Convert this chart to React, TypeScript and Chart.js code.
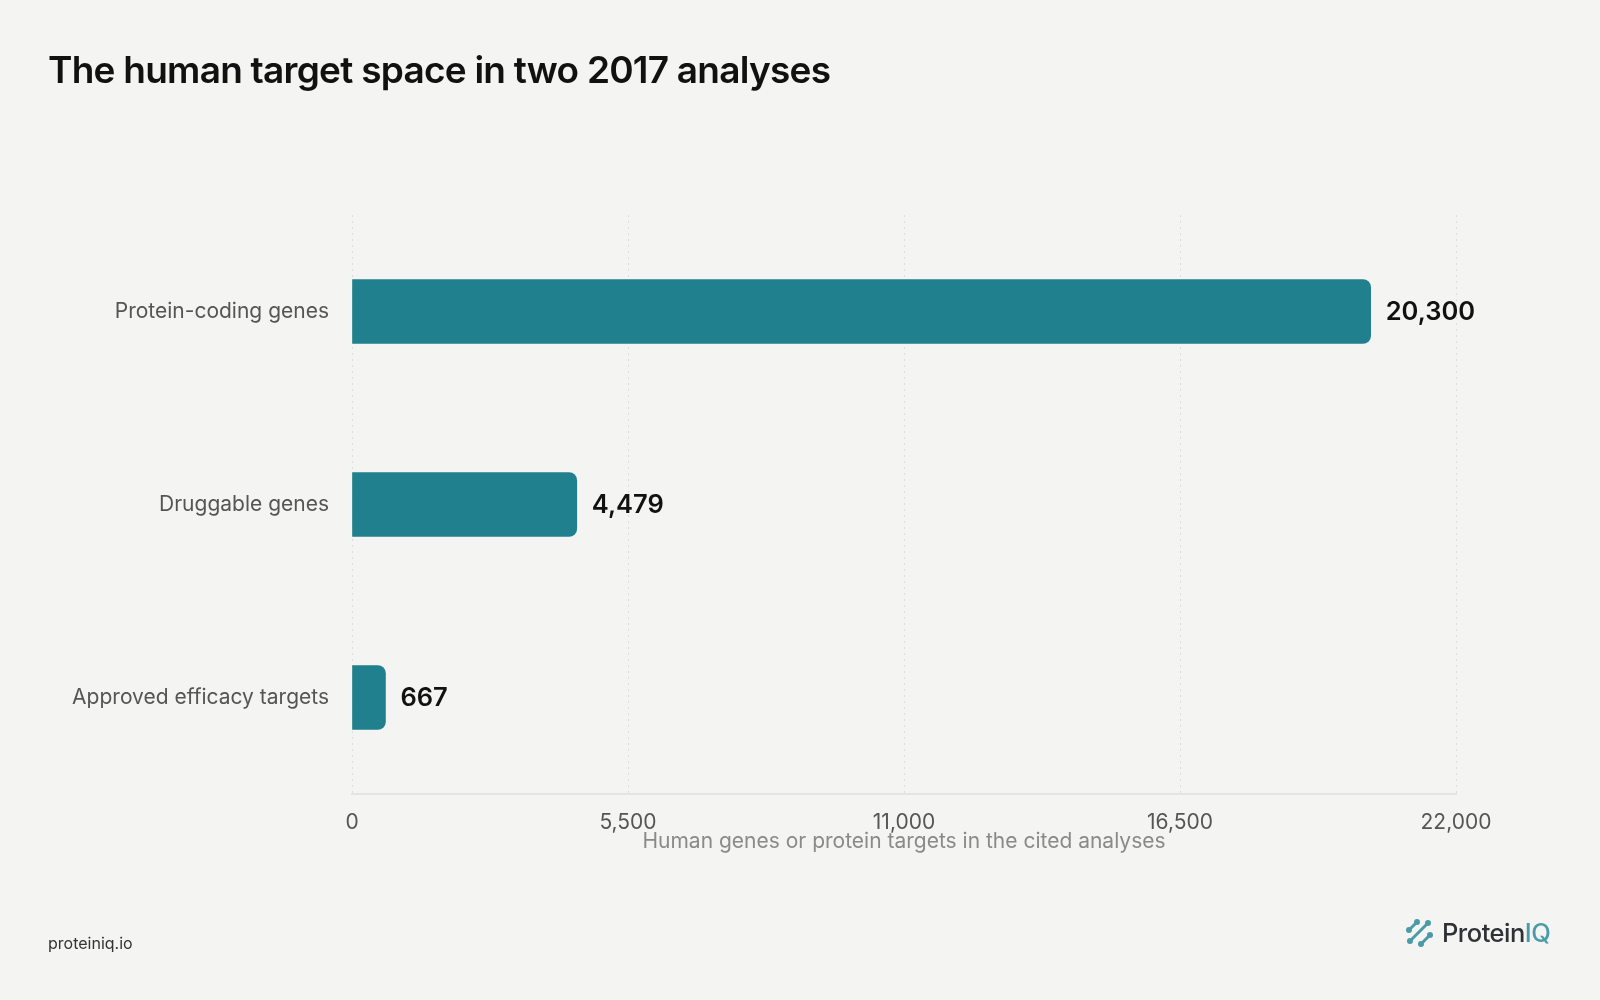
import React, { useEffect, useRef } from "react";
import { Chart, registerables } from "chart.js";

Chart.register(...registerables);

const categories = ["Protein-coding genes", "Druggable genes", "Approved efficacy targets"];
const values = [20300, 4479, 667];
const xTicks = [0, 5500, 11000, 16500, 22000];

const FONT = "Inter, 'Noto Sans', sans-serif";
const BAR = "#21808D";
const BG = "#F4F4F2";

const valueLabels = {
  id: "valueLabels",
  afterDatasetsDraw(chart: any) {
    const ctx = chart.ctx;
    const meta = chart.getDatasetMeta(0);
    ctx.save();
    ctx.font = `600 25.5px ${FONT}`;
    ctx.fillStyle = "#111111";
    ctx.textAlign = "left";
    ctx.textBaseline = "middle";
    meta.data.forEach((bar: any, i: number) => {
      ctx.fillText(values[i].toLocaleString("en-US"), bar.x + 15, bar.y + 1);
    });
    ctx.restore();
  },
};

function ChartCanvas() {
  const ref = useRef<HTMLCanvasElement | null>(null);
  useEffect(() => {
    if (!ref.current) return;
    const chart = new Chart(ref.current, {
      type: "bar",
      data: {
        labels: categories,
        datasets: [
          {
            data: values,
            backgroundColor: BAR,
            borderRadius: 8,
            borderSkipped: "start",
            barThickness: 64,
          },
        ],
      },
      options: {
        indexAxis: "y",
        animation: false,
        responsive: false,
        maintainAspectRatio: false,
        devicePixelRatio: 1,
        layout: { padding: { left: 0, right: 144, top: 215, bottom: 146 } },
        plugins: {
          legend: { display: false },
          tooltip: { enabled: false },
        },
        scales: {
          x: {
            min: 0,
            max: 22000,
            afterBuildTicks(scale: any) {
              scale.ticks = xTicks.map((v) => ({ value: v }));
            },
            afterFit(scale: any) {
              scale.height = 60;
            },
            ticks: {
              padding: 16,
              color: "#555555",
              font: { family: FONT, size: 21 },
              callback: (v: any) => Number(v).toLocaleString("en-US"),
            },
            grid: {
              color: "rgba(0,0,0,0.09)",
              lineWidth: 1,
              drawTicks: false,
            },
            border: { display: true, color: "#E4E4E2", width: 2, dash: [2, 4] },
            title: {
              display: true,
              text: "Human genes or protein targets in the cited analyses",
              color: "#8A8A8A",
              font: { family: FONT, size: 21 },
              padding: { top: 0, bottom: 0 },
            },
          },
          y: {
            afterFit(scale: any) {
              scale.width = 352;
            },
            ticks: {
              padding: 23,
              color: "#555555",
              font: { family: FONT, size: 21 },
            },
            grid: { display: false, drawTicks: false },
            border: { display: false },
          },
        },
      },
      plugins: [valueLabels],
    } as any);
    return () => chart.destroy();
  }, []);
  return (
    <canvas
      ref={ref}
      width={1600}
      height={1000}
      style={{ position: "absolute", left: 0, top: 0, width: 1600, height: 1000 }}
    />
  );
}

function Logo() {
  const c = "#4A9BA8";
  const bone = (x1: number, y1: number, x2: number, y2: number, k: number) => (
    <g key={k}>
      <line x1={x1} y1={y1} x2={x2} y2={y2} stroke={c} strokeWidth={3} strokeLinecap="round" />
      <circle cx={x1} cy={y1} r={3} fill={c} />
      <circle cx={x2} cy={y2} r={3} fill={c} />
    </g>
  );
  return (
    <div
      style={{
        position: "absolute",
        left: 1406,
        top: 919,
        display: "flex",
        alignItems: "center",
        gap: 8,
      }}
    >
      <svg width={28} height={28} viewBox="0 0 28 28">
        {bone(3, 11, 11, 3, 0)}
        {bone(4, 22, 22, 4, 1)}
        {bone(15, 25, 24, 16, 2)}
      </svg>
      <span
        style={{
          fontFamily: FONT,
          fontSize: 25.5,
          fontWeight: 500,
          letterSpacing: -0.5,
          color: "#2F3134",
          lineHeight: "28px",
        }}
      >
        Protein<span style={{ color: c }}>IQ</span>
      </span>
    </div>
  );
}

export default function App() {
  useEffect(() => {
    document.body.style.margin = "0";
    document.body.style.background = BG;
  }, []);
  return (
    <div
      style={{
        position: "relative",
        width: 1600,
        height: 1000,
        background: BG,
        overflow: "hidden",
        fontFamily: FONT,
      }}
    >
      <ChartCanvas />
      <div
        style={{
          position: "absolute",
          left: 48,
          top: 46,
          fontSize: 37,
          fontWeight: 600,
          letterSpacing: -0.75,
          color: "#111111",
          lineHeight: "48px",
          whiteSpace: "nowrap",
        }}
      >
        The human target space in two 2017 analyses
      </div>
      <div
        style={{
          position: "absolute",
          left: 48,
          top: 931,
          fontSize: 16,
          color: "#333333",
          lineHeight: "24px",
        }}
      >
        proteiniq.io
      </div>
      <Logo />
    </div>
  );
}
